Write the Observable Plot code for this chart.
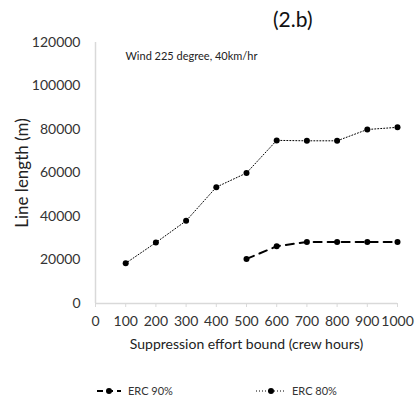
<!DOCTYPE html>
<html>
<head>
<meta charset="utf-8">
<script src="https://cdn.jsdelivr.net/npm/d3@7"></script>
<script src="https://cdn.jsdelivr.net/npm/@observablehq/plot@0.6"></script>
<style>
  body { margin: 0; background: #fff; font-family: Lato, "Open Sans", sans-serif; color: #222; }
  #wrap { width: 416px; height: 403px; position: relative; overflow: hidden; }
  #title { height: 30px; box-sizing: border-box; padding-top: 8px; padding-left: 273px; font-size: 21px; line-height: 22px; color: #111; }
  #legend { position: relative; height: 38px; font-size: 11px; color: #333; }
  .li { position: absolute; top: 19px; display: flex; align-items: center; gap: 6px; }
  .li svg { display: block; }
</style>
</head>
<body>
<div id="wrap">
  <div id="title">(2.b)</div>
  <div id="chart"></div>
  <div id="legend">
    <div class="li" style="left:96px"><svg width="26" height="10"><line x1="1" y1="5" x2="25" y2="5" stroke="#000" stroke-width="2" stroke-dasharray="6,4"/><circle cx="13" cy="5" r="3" fill="#000"/></svg><span>ERC 90%</span></div>
    <div class="li" style="left:256px"><svg width="30" height="10"><line x1="0" y1="5" x2="30" y2="5" stroke="#000" stroke-width="1" stroke-dasharray="1,2"/><circle cx="15" cy="5" r="3" fill="#000"/></svg><span>ERC 80%</span></div>
  </div>
</div>
<script>
const hoursAll = [100, 200, 300, 400, 500, 600, 700, 800, 900, 1000];
const erc80Values = [18500, 28000, 38000, 53500, 60000, 75000, 74800, 74800, 80000, 81000];
const hours90 = [500, 600, 700, 800, 900, 1000];
const erc90Values = [20500, 26300, 28300, 28300, 28300, 28300];
const xTicks = [0, 100, 200, 300, 400, 500, 600, 700, 800, 900, 1000];
const yTicks = [0, 20000, 40000, 60000, 80000, 100000, 120000];
const note = "Wind 225 degree, 40km/hr";

const erc80 = hoursAll.map((h, i) => ({h, v: erc80Values[i]}));
const erc90 = hours90.map((h, i) => ({h, v: erc90Values[i]}));

const chart = Plot.plot({
  width: 416,
  height: 335,
  marginTop: 12,
  marginLeft: 95,
  marginRight: 19,
  marginBottom: 62,
  style: {fontFamily: "Lato, 'Open Sans', sans-serif", fontSize: "14px", color: "#333", background: "#fff", overflow: "visible"},
  x: {domain: [0, 1000]},
  y: {domain: [0, 120000]},
  marks: [
    Plot.ruleX([0], {y1: 0, y2: 120000, stroke: "#d9d9d9", strokeWidth: 1.5}),
    Plot.ruleY([0], {stroke: "#d9d9d9", strokeWidth: 1.5}),
    Plot.axisX({ticks: xTicks, tickSize: 4, tickPadding: 9, stroke: "#d9d9d9", tickFormat: d => String(d), label: null, fontSize: 14}),
    Plot.axisY({ticks: yTicks, tickSize: 0, tickPadding: 15, tickFormat: d => String(d), label: null, fontSize: 14}),
    Plot.text([ "Line length (m)" ], {frameAnchor: "left", dx: -73, rotate: -90, fontSize: 17, fill: "#222", textAnchor: "middle"}),
    Plot.text([ "Suppression effort bound (crew hours)" ], {frameAnchor: "bottom", dy: 45, fontSize: 14, fill: "#222", textAnchor: "middle"}),
    Plot.text([note], {frameAnchor: "top-left", dx: 30, dy: 10, fontSize: 11, fill: "#222", textAnchor: "start"}),
    Plot.line(erc80, {x: "h", y: "v", stroke: "#000", strokeWidth: 1, strokeDasharray: "1,2"}),
    Plot.dot(erc80, {x: "h", y: "v", r: 3, fill: "#000"}),
    Plot.line(erc90, {x: "h", y: "v", stroke: "#000", strokeWidth: 2, strokeDasharray: "8,6"}),
    Plot.dot(erc90, {x: "h", y: "v", r: 3, fill: "#000"})
  ]
});
document.getElementById("chart").appendChild(chart);
</script>
</body>
</html>
